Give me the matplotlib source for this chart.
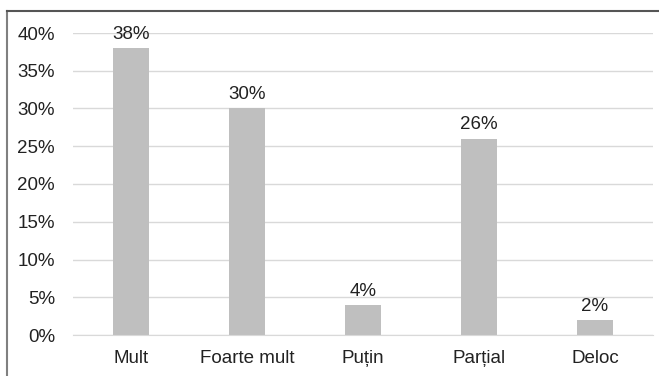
import matplotlib
matplotlib.use('Agg')
from matplotlib import pyplot as plt
from matplotlib.lines import Line2D

categories = ['Mult', 'Foarte mult', 'Puțin', 'Parțial', 'Deloc']
values = [38, 30, 4, 26, 2]
yticks = [0, 5, 10, 15, 20, 25, 30, 35, 40]

plt.rcParams['font.family'] = ['Liberation Sans', 'DejaVu Sans']

fig = plt.figure(figsize=(6.59, 3.76), dpi=100)
ax = fig.add_axes([73/659, 41/376, 580/659, 302/376])

x = range(len(categories))
ax.bar(x, values, width=0.31, color='#bfbfbf', zorder=2)
for i, v in zip(x, values):
    ax.text(i, v + 0.7, f'{v}%', ha='center', va='bottom', fontsize=13.5, color='#222222')

ax.set_xlim(-0.5, len(categories) - 0.5)
ax.set_ylim(0, 40)
ax.set_yticks(yticks)
ax.set_yticklabels([f'{t}%' for t in yticks])
ax.set_xticks(list(x))
ax.set_xticklabels(categories)
ax.yaxis.grid(True, color='#d9d9d9', linewidth=1, zorder=0)
ax.tick_params(axis='both', length=0, labelsize=13.5, colors='#222222')
ax.tick_params(axis='y', pad=13)
ax.tick_params(axis='x', pad=11)
for s in ['top', 'right', 'left']:
    ax.spines[s].set_visible(False)
ax.spines['bottom'].set_color('#d9d9d9')
ax.set_axisbelow(True)

# rahmen um das ganze bild
x0, y0 = 6.5/659, 1 - 10.5/376
fig.add_artist(Line2D([x0, x0], [0, y0], transform=fig.transFigure, color='#808080', lw=1.5))
fig.add_artist(Line2D([x0, 1], [y0, y0], transform=fig.transFigure, color='#555555', lw=1.5))

fig.savefig('out.png', dpi=100)
